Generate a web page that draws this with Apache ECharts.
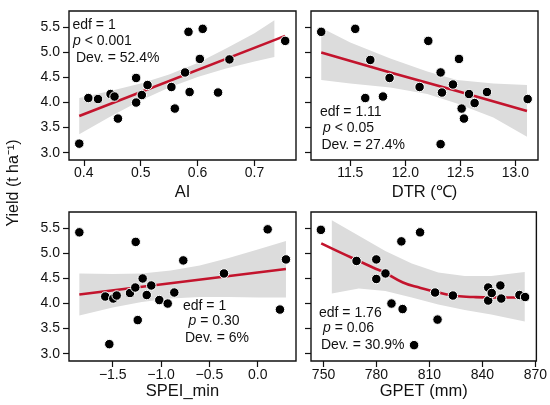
<!DOCTYPE html>
<html>
<head>
<meta charset="utf-8">
<script src="https://cdn.jsdelivr.net/npm/echarts@6/dist/echarts.min.js"></script>
<style>
  html, body { margin: 0; padding: 0; background: #fff; }
  #main { width: 550px; height: 405px; }
</style>
</head>
<body>
<div id="main"></div>
<script>
// observed points, one panel each
const aiX = [0.392, 0.408, 0.425, 0.447, 0.454, 0.460, 0.492, 0.492, 0.502, 0.512, 0.554, 0.560, 0.578, 0.584, 0.586, 0.604, 0.609, 0.636, 0.656, 0.754];
const aiY = [3.18, 4.09, 4.07, 4.17, 4.12, 3.68, 4.49, 4.00, 4.15, 4.35, 4.31, 3.88, 4.60, 5.41, 4.21, 4.87, 5.47, 4.20, 4.86, 5.23];

const dtrX = [11.236, 11.545, 11.682, 11.857, 11.636, 11.797, 12.130, 12.209, 12.321, 12.333, 12.321, 12.433, 12.488, 12.512, 12.533, 12.579, 12.630, 12.742, 13.112];
const dtrY = [5.41, 5.47, 4.85, 4.49, 4.09, 4.12, 4.31, 5.23, 4.60, 4.20, 3.17, 4.36, 4.87, 3.88, 3.68, 4.17, 3.99, 4.21, 4.07];

const speiX = [-1.845, -1.262, -1.577, -1.494, -1.459, -1.321, -1.266, -1.190, -1.148, -1.101, -1.018, -0.931, -0.863, -0.770, -0.349, 0.103, 0.230, 0.292, -1.241, -1.535];
const speiY = [5.42, 5.23, 4.14, 4.10, 4.16, 4.21, 4.32, 4.50, 4.17, 4.36, 4.07, 4.00, 4.22, 4.86, 4.60, 5.48, 3.88, 4.88, 3.67, 3.19];

const gpetX = [748.5, 768.7, 779.9, 779.9, 785.1, 788.5, 794.1, 794.8, 804.7, 801.3, 813.2, 814.6, 823.3, 843.3, 843.3, 845.3, 850.2, 850.7, 861.0, 864.2];
const gpetY = [5.47, 4.85, 4.88, 4.49, 4.60, 4.00, 5.24, 3.89, 5.42, 3.17, 4.22, 3.68, 4.16, 4.32, 4.06, 4.21, 4.36, 4.10, 4.17, 4.13];

// fitted curves
const aiFitX = [0.392, 0.754];
const aiFitY = [3.73, 5.33];
const dtrFitX = [11.236, 11.864, 12.47, 13.106];
const dtrFitY = [5.00, 4.60, 4.23, 3.83];
const speiFitX = [-1.845, 0.292];
const speiFitY = [4.18, 4.69];
const gpetFitX = [748.7, 760, 768.7, 778, 785, 795, 805, 813, 823, 835, 845, 864];
const gpetFitY = [5.20, 5.01, 4.87, 4.72, 4.61, 4.42, 4.31, 4.24, 4.16, 4.13, 4.12, 4.12];

// confidence bands
const aiBandX = [0.392, 0.45, 0.50, 0.55, 0.60, 0.65, 0.70, 0.735];
const aiBandLo = [3.37, 3.74, 4.04, 4.30, 4.51, 4.68, 4.82, 4.91];
const aiBandHi = [4.09, 4.24, 4.38, 4.56, 4.79, 5.08, 5.38, 5.64];
const dtrBandX = [11.236, 11.5, 11.864, 12.2, 12.47, 12.8, 13.106];
const dtrBandLo = [4.45, 4.38, 4.30, 4.17, 3.98, 3.70, 3.32];
const dtrBandHi = [5.49, 5.20, 4.88, 4.62, 4.45, 4.38, 4.35];
const speiBandX = [-1.845, -1.5, -1.2, -0.9, -0.6, -0.3, 0.0, 0.292];
const speiBandLo = [3.76, 3.92, 4.03, 4.10, 4.13, 4.13, 4.12, 4.12];
const speiBandHi = [4.60, 4.59, 4.60, 4.66, 4.76, 4.91, 5.08, 5.25];
const gpetBandX = [754.7, 770, 785, 800, 815, 830, 845, 864];
const gpetBandLo = [4.20, 4.30, 4.25, 4.12, 3.98, 3.87, 3.78, 3.64];
const gpetBandHi = [5.66, 5.35, 5.05, 4.80, 4.62, 4.55, 4.55, 4.63];

// tick labels
const yTicks = [3.0, 3.5, 4.0, 4.5, 5.0, 5.5];
const aiTicks = [0.4, 0.5, 0.6, 0.7];
const dtrTicks = [11.5, 12.0, 12.5, 13.0];
const speiTicks = [-1.5, -1.0, -0.5, 0.0];
const gpetTicks = [750, 780, 810, 840, 870];

const FONT = 'Liberation Sans, Arial, Helvetica, sans-serif';
const RED = '#c3142d';

const chart = echarts.init(document.getElementById('main'), null, { renderer: 'canvas' });

function pairs(xs, ys) {
  return xs.map((x, i) => [x, ys[i]]);
}

function fmtTick(v, dec) {
  let s = v.toFixed(dec);
  return s.replace('-', '\u2212');
}

function xAxisFor(idx, min, max, ticks, dec, name, margin, gap) {
  return {
    type: 'value', gridIndex: idx, min: min, max: max,
    name: name, nameLocation: 'middle', nameGap: gap,
    nameTextStyle: { fontFamily: FONT, fontSize: 16.5, color: '#111' },
    splitLine: { show: false },
    axisLine: { show: false, onZero: false },
    axisTick: { show: true, length: 6, customValues: ticks, lineStyle: { color: '#111', width: 1.2 } },
    axisLabel: {
      customValues: ticks, margin: margin, color: '#111',
      fontFamily: FONT, fontSize: 14,
      formatter: v => fmtTick(v, dec)
    }
  };
}

function yAxisFor(idx, showLabels) {
  return {
    type: 'value', gridIndex: idx, min: 2.854, max: 5.826,
    splitLine: { show: false },
    axisLine: { show: false, onZero: false },
    axisTick: { show: true, length: 6, customValues: yTicks, lineStyle: { color: '#111', width: 1.2 } },
    axisLabel: {
      show: showLabels, customValues: yTicks, margin: 9, color: '#111',
      fontFamily: FONT, fontSize: 14,
      formatter: v => v.toFixed(1)
    }
  };
}

function bandSeries(idx, bx, lo, hi) {
  return {
    type: 'custom', xAxisIndex: idx, yAxisIndex: idx, z: 1, silent: true,
    clip: true,
    data: bx.map((x, i) => [x, lo[i], hi[i]]),
    renderItem: function (params, api) {
      if (params.dataIndex !== 0) return null;
      const pts = [];
      for (let i = 0; i < bx.length; i++) pts.push(api.coord([bx[i], hi[i]]));
      for (let i = bx.length - 1; i >= 0; i--) pts.push(api.coord([bx[i], lo[i]]));
      return { type: 'polygon', shape: { points: pts }, style: { fill: '#dcdcdc' } };
    }
  };
}

function fitSeries(idx, fx, fy, smooth) {
  return {
    type: 'line', xAxisIndex: idx, yAxisIndex: idx, z: 2,
    data: pairs(fx, fy), showSymbol: false, smooth: smooth, silent: true,
    lineStyle: { color: RED, width: 2.6 }
  };
}

function pointSeries(idx, xs, ys) {
  return {
    type: 'scatter', xAxisIndex: idx, yAxisIndex: idx, z: 3,
    data: pairs(xs, ys), symbolSize: 9.5,
    itemStyle: { color: '#000', borderColor: '#fff', borderWidth: 1, opacity: 1 }
  };
}

function note(x, y, lines) {
  // three stat lines, the p is italic
  return lines.map((t, i) => ({
    type: 'text', z: 10,
    style: {
      text: t, x: x[i], y: y[i], verticalAlign: 'middle',
      fontFamily: FONT, fontSize: 14, fill: '#111',
      rich: { i: { fontFamily: FONT, fontSize: 14, fontStyle: 'italic', fill: '#111' } }
    }
  }));
}

const gridBox = { show: true, borderColor: '#111', borderWidth: 1.4, backgroundColor: 'transparent' };

const option = {
  animation: false,
  grid: [
    Object.assign({ left: 69, top: 11, width: 227, height: 149 }, gridBox),
    Object.assign({ left: 311, top: 11, width: 227, height: 149 }, gridBox),
    Object.assign({ left: 69, top: 212, width: 227, height: 149 }, gridBox),
    Object.assign({ left: 311, top: 212, width: 227, height: 149 }, gridBox)
  ],
  xAxis: [
    xAxisFor(0, 0.374, 0.773, aiTicks, 1, 'AI', 6, 24),
    xAxisFor(1, 11.143, 13.206, dtrTicks, 1, 'DTR (\u2103)', 6, 24),
    xAxisFor(2, -1.952, 0.396, speiTicks, 1, 'SPEI_min', 7, 17),
    xAxisFor(3, 742.9, 870.6, gpetTicks, 0, 'GPET (mm)', 7, 17)
  ],
  yAxis: [yAxisFor(0, true), yAxisFor(1, false), yAxisFor(2, true), yAxisFor(3, false)],
  series: [
    bandSeries(0, aiBandX, aiBandLo, aiBandHi),
    fitSeries(0, aiFitX, aiFitY, false),
    pointSeries(0, aiX, aiY),
    bandSeries(1, dtrBandX, dtrBandLo, dtrBandHi),
    fitSeries(1, dtrFitX, dtrFitY, true),
    pointSeries(1, dtrX, dtrY),
    bandSeries(2, speiBandX, speiBandLo, speiBandHi),
    fitSeries(2, speiFitX, speiFitY, false),
    pointSeries(2, speiX, speiY),
    bandSeries(3, gpetBandX, gpetBandLo, gpetBandHi),
    fitSeries(3, gpetFitX, gpetFitY, true),
    pointSeries(3, gpetX, gpetY)
  ],
  graphic: [
    {
      type: 'text', z: 10, rotation: Math.PI / 2, x: 14, y: 183,
      style: {
        text: 'Yield (t ha\u207B\u00B9)', align: 'center', verticalAlign: 'middle',
        fontFamily: FONT, fontSize: 16, fill: '#111'
      }
    }
  ].concat(
    note([72.5, 73, 76], [25.5, 41, 58], ['edf = 1', '{i|p} < 0.001', 'Dev. = 52.4%']),
    note([320, 323, 321.5], [112.5, 128, 145], ['edf = 1.11', '{i|p} < 0.05', 'Dev. = 27.4%']),
    note([183, 188.5, 185], [306, 321, 338], ['edf = 1', '{i|p} = 0.30', 'Dev. = 6%']),
    note([319, 323, 321], [313, 328, 345], ['edf = 1.76', '{i|p} = 0.06', 'Dev. = 30.9%'])
  )
};

chart.setOption(option);
</script>
</body>
</html>
